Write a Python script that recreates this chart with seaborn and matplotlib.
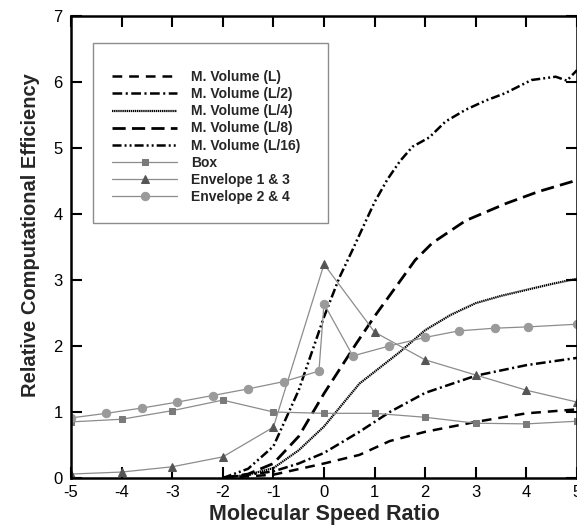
import numpy as np
import pandas as pd
import matplotlib
matplotlib.use('Agg')
import matplotlib.pyplot as plt
import seaborn as sns

# Curvas do metodo M. Volume
x_L = [-2.0, -1.0, 0.0, 0.7, 1.3, 2.0, 3.0, 4.0, 5.0]
y_L = [0.0, 0.05, 0.22, 0.35, 0.56, 0.70, 0.85, 0.98, 1.04]

x_L2 = [-2.0, -1.0, -0.5, 0.0, 0.7, 1.3, 2.0, 3.0, 4.0, 5.0]
y_L2 = [0.0, 0.10, 0.22, 0.38, 0.70, 1.00, 1.29, 1.55, 1.71, 1.82]

x_L4 = [-2.0, -1.5, -1.0, -0.5, 0.0, 0.7, 1.3, 1.5, 2.0, 2.5, 3.0, 3.5, 4.0, 4.5, 5.0]
y_L4 = [0.0, 0.05, 0.15, 0.42, 0.78, 1.43, 1.79, 1.91, 2.24, 2.47, 2.65, 2.76, 2.85, 2.94, 3.02]

x_L8 = [-2.0, -1.5, -1.0, -0.5, 0.0, 0.64, 1.0, 1.5, 1.8, 2.14, 2.8, 3.6, 4.24, 4.9, 5.0]
y_L8 = [0.0, 0.06, 0.22, 0.63, 1.28, 2.04, 2.45, 2.98, 3.30, 3.56, 3.90, 4.16, 4.34, 4.49, 4.52]

x_L16 = [-2.0, -1.5, -1.0, -0.5, 0.0, 0.3, 0.56, 0.83, 1.0, 1.25, 1.5, 1.75, 2.08, 2.4, 2.8, 3.2, 3.58, 4.1, 4.58, 4.8, 5.0]
y_L16 = [0.0, 0.14, 0.48, 1.33, 2.44, 3.03, 3.45, 3.90, 4.18, 4.52, 4.80, 5.02, 5.16, 5.40, 5.58, 5.72, 5.83, 6.03, 6.08, 6.02, 6.18]

# Metodos com marcadores
x_box = [-5, -4, -3, -2, -1, 0, 1, 2, 3, 4, 5]
y_box = [0.85, 0.89, 1.02, 1.18, 1.00, 0.98, 0.98, 0.92, 0.83, 0.82, 0.86]

x_env13 = [-5, -4, -3, -2, -1, 0, 1, 2, 3, 4, 5]
y_env13 = [0.06, 0.09, 0.17, 0.32, 0.77, 3.24, 2.21, 1.79, 1.56, 1.33, 1.15]

x_env24 = [-5, -4.3, -3.6, -2.9, -2.2, -1.5, -0.8, -0.1, 0.0, 0.57, 1.29, 2.0, 2.67, 3.38, 4.04, 5.0]
y_env24 = [0.91, 0.98, 1.06, 1.15, 1.25, 1.35, 1.46, 1.62, 2.64, 1.85, 2.0, 2.13, 2.23, 2.27, 2.29, 2.33]

sns.set_style('ticks')
plt.rcParams['font.family'] = ['Liberation Sans', 'DejaVu Sans']
plt.rcParams['lines.scale_dashes'] = False
plt.rcParams['axes.unicode_minus'] = False

fig = plt.figure(figsize=(5.77, 5.26), dpi=100)
ax = fig.add_axes([71 / 577, 48 / 526, 506 / 577, 462 / 526])

curvas = [
    ('M. Volume (L)', x_L, y_L, (0, (7, 5)), 1.8),
    ('M. Volume (L/2)', x_L2, y_L2, (0, (7, 2.5, 1.5, 2.5)), 1.8),
    ('M. Volume (L/4)', x_L4, y_L4, (0, (1.0, 0.5)), 1.6),
    ('M. Volume (L/8)', x_L8, y_L8, (0, (9.5, 4.5)), 2.0),
    ('M. Volume (L/16)', x_L16, y_L16, (0, (6.5, 2.2, 1.4, 2.2, 1.4, 2.2)), 1.8),
]
for nome, xs, ys, ls, lw in curvas:
    df = pd.DataFrame({'x': xs, 'y': ys})
    sns.lineplot(data=df, x='x', y='y', ax=ax, color='black', linestyle=ls,
                 linewidth=lw, label=nome, estimator=None, sort=False)

marcados = [
    ('Box', x_box, y_box, 's', '#7a7a7a', 4.5),
    ('Envelope 1 & 3', x_env13, y_env13, '^', '#555555', 6),
    ('Envelope 2 & 4', x_env24, y_env24, 'o', '#9a9a9a', 6),
]
for nome, xs, ys, mk, cor, ms in marcados:
    df = pd.DataFrame({'x': xs, 'y': ys})
    sns.lineplot(data=df, x='x', y='y', ax=ax, color='#8c8c8c', linewidth=0.9,
                 marker=mk, markersize=ms, markerfacecolor=cor, markeredgecolor=cor,
                 label=nome, estimator=None, sort=False)

ax.set_xlim(-5, 5)
ax.set_ylim(0, 7)
ax.set_xticks(range(-5, 6))
ax.set_yticks(range(0, 8))

for s in ax.spines.values():
    s.set_visible(True)
    s.set_linewidth(1.8)
    s.set_color('black')
ax.tick_params(direction='in', length=8, width=1.5, top=True, right=True,
               labelsize=12, colors='black', pad=5)
ax.tick_params(axis='y', pad=6)

ax.set_xlabel('Molecular Speed Ratio', fontsize=15.5, fontweight='bold', labelpad=3)
ax.set_ylabel('Relative Computational Efficiency', fontsize=14.5, fontweight='bold')
ax.yaxis.set_label_coords(-0.061, 0.526)

leg = ax.legend(loc='upper left', bbox_to_anchor=(0.043, 0.942, 0.465, 0.0), mode='expand',
                borderaxespad=0, frameon=True, fancybox=False, shadow=False,
                prop={'weight': 'bold', 'size': 10}, handlelength=4.7, handletextpad=0.95,
                borderpad=1.4, labelspacing=0.22, title=' ', title_fontsize=4)
leg.get_frame().set_edgecolor('#8c8c8c')
leg.get_frame().set_linewidth(1.0)
leg.get_frame().set_facecolor('white')
leg.get_frame().set_alpha(1)

fig.savefig('out.png', dpi=100)
